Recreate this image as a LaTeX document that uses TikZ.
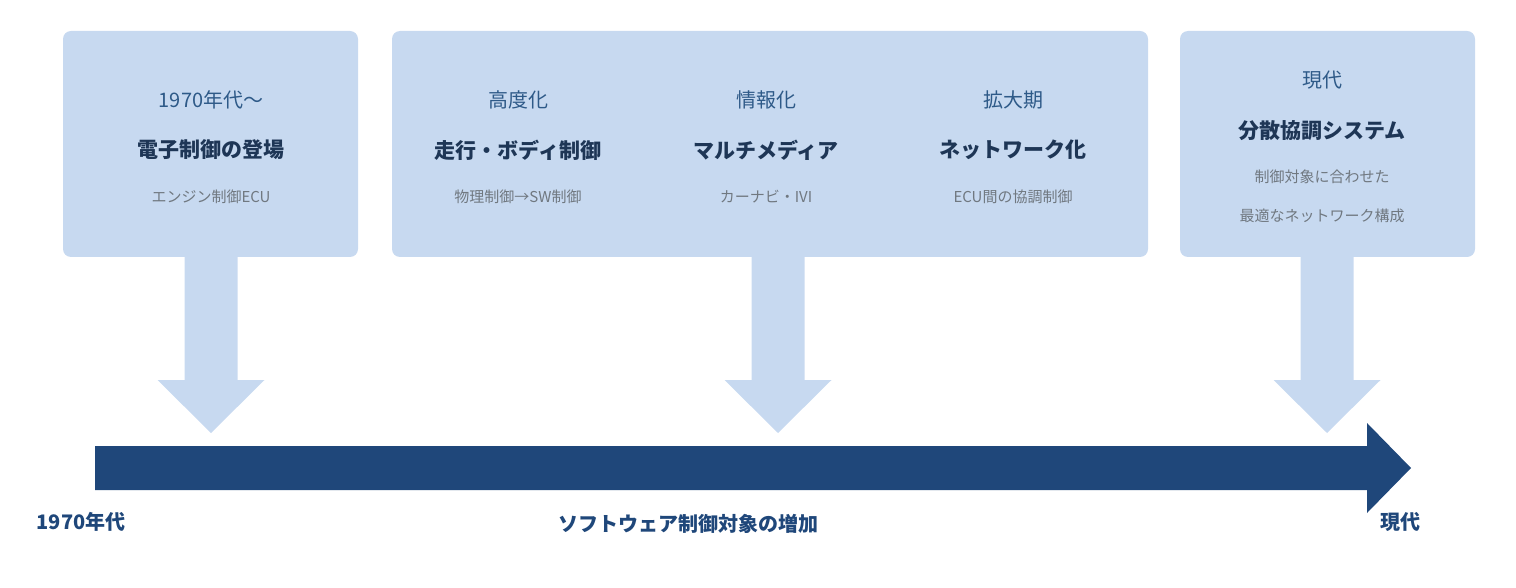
\documentclass[tikz,border=0pt]{standalone}
\usepackage{fontspec}
\setmainfont{Noto Sans CJK JP}
\begin{document}
\begin{tikzpicture}[x=1pt,y=-1pt,
  box/.style={fill=boxc,rounded corners=8pt,draw=none},
  dn/.style={fill=boxc,draw=none},
  hd/.style={text=headc,font=\fontsize{20}{24}\selectfont},
  tt/.style={text=titc,font=\fontsize{21}{25}\selectfont\bfseries},
  sb/.style={text=grayc,font=\fontsize{15}{18}\selectfont},
  bl/.style={text=bigc,font=\fontsize{20}{24}\selectfont\bfseries}]
\definecolor{boxc}{HTML}{C7D9F0}
\definecolor{headc}{HTML}{2E5A88}
\definecolor{titc}{HTML}{1E3656}
\definecolor{grayc}{HTML}{707880}
\definecolor{bigc}{HTML}{1F477A}
\useasboundingbox (0,0) rectangle (1516,588);
\path[box] (63,31) rectangle (358,257);
\path[box] (392,31) rectangle (1148,257);
\path[box] (1180,31) rectangle (1475,257);
\foreach \c in {211,778,1327}{
  \path[dn] (\c-26.5,250) -- (\c+26.5,250) -- (\c+26.5,380) -- (\c+53.5,380) -- (\c,433) -- (\c-53.5,380) -- (\c-26.5,380) -- cycle;}
\path[fill=bigc] (95,446) -- (1367,446) -- (1367,423) -- (1411,468) -- (1367,513) -- (1367,490) -- (95,490) -- cycle;
\node[hd] (a1) at (211,100) {1970年代～};
\node[tt] (a2) at (211,150) {電子制御の登場};
\node[sb] (a3) at (211,197) {エンジン制御ECU};
\node[hd] (b1) at (518,100) {高度化};
\node[tt] (b2) at (518,150) {走行・ボディ制御};
\node[sb] (b3) at (518,197) {物理制御→SW制御};
\node[hd] (c1) at (766,100) {情報化};
\node[tt] (c2) at (766,150) {マルチメディア};
\node[sb] (c3) at (766,197) {カーナビ・IVI};
\node[hd] (d1) at (1013,100) {拡大期};
\node[tt] (d2) at (1013,150) {ネットワーク化};
\node[sb] (d3) at (1013,197) {ECU間の協調制御};
\node[hd] (e1) at (1322,80) {現代};
\node[tt] (e2) at (1322,131) {分散協調システム};
\node[sb] (e3) at (1322,177) {制御対象に合わせた};
\node[sb] (e4) at (1322,216) {最適なネットワーク構成};
\node[bl] (l1) at (81,522) {1970年代};
\node[bl] (l2) at (688,524) {ソフトウェア制御対象の増加};
\node[bl] (l3) at (1400,522) {現代};
\end{tikzpicture}
\end{document}
